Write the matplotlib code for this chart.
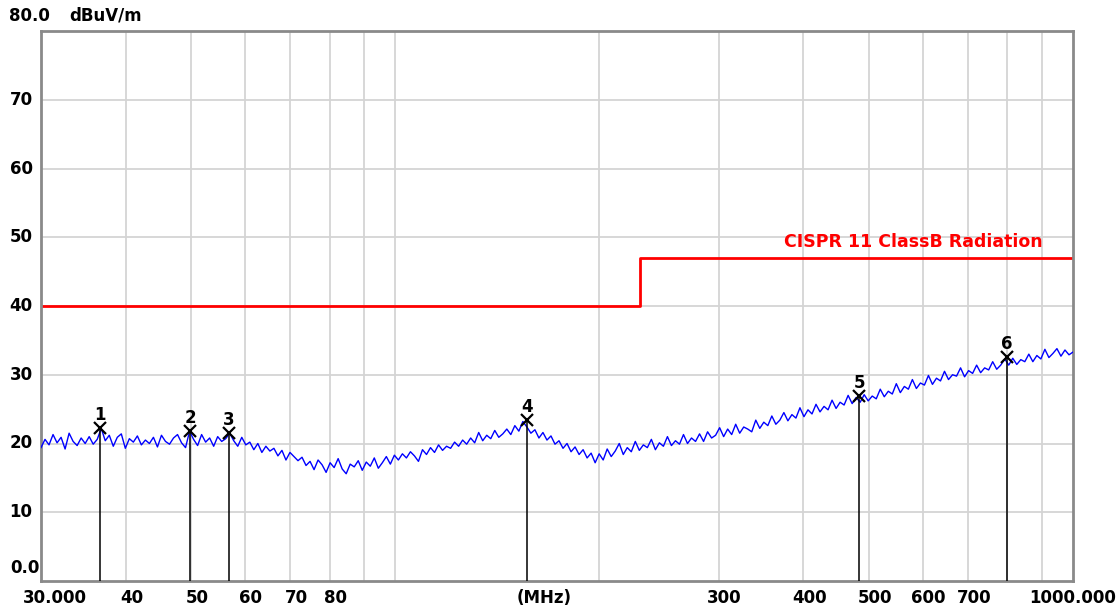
import numpy as np
import matplotlib
matplotlib.use("Agg")
import matplotlib.pyplot as plt
import matplotlib.transforms as mtransforms

# ---------------- data ----------------
f_start, f_stop = 30.0, 1000.0

# measured trace level (dBuV/m), read left to right across the sweep
seg_a = [19.4, 20.6, 19.8, 21.3, 20.1, 20.9, 19.2, 21.5, 20.3, 19.7, 20.8, 20.0, 21.0, 19.9, 20.6, 22.2,
         20.4, 21.2, 19.6, 20.9, 21.4, 19.3, 20.7, 20.2, 21.1, 19.8, 20.5, 20.0, 20.9, 19.5, 21.2, 20.3,
         19.9, 20.8, 21.3, 20.1, 19.4, 21.8, 20.6, 19.7, 21.3, 20.2, 20.8, 19.6, 21.0, 20.3, 20.7, 21.5]
seg_b = [20.4, 19.6, 20.9, 19.8, 20.2, 19.1, 20.0, 18.7, 19.6, 18.9, 19.3, 18.2, 19.0, 17.6, 18.7, 18.1, 17.5]
seg_c = [18.0, 16.8, 17.4, 16.2, 17.6, 16.9, 15.8, 17.2, 16.5, 17.8, 16.3, 15.6, 17.0, 16.6, 17.5, 16.1,
         17.3, 16.7, 17.9, 16.4]
seg_d = [17.2, 18.1, 17.0, 18.3, 17.6, 18.5, 17.9, 18.8, 18.2, 17.4, 19.1, 18.4, 19.4, 18.7, 19.8, 19.0, 19.6]
seg_e = [19.3, 20.2, 19.6, 20.5, 19.9, 20.8, 20.1, 21.6, 20.4, 21.2, 20.7, 21.9, 20.9, 21.4, 22.1, 21.3,
         22.6, 21.8, 23.2]
seg_f = [22.4, 21.5, 22.0, 20.8, 21.6, 20.5, 21.1, 19.9, 20.4, 19.3, 20.0, 18.8, 19.5, 18.4, 19.1, 17.9,
         18.6, 17.2]
seg_g = [18.5, 17.6, 19.2, 18.1, 18.9, 20.0, 18.4, 19.4, 18.8, 20.3, 19.0, 19.8, 19.4, 20.6, 19.1, 20.1,
         19.6, 21.0, 19.7, 20.4, 19.9, 21.3, 20.0, 20.8, 20.3]
seg_h = [21.4, 20.3, 21.7, 20.8, 21.2, 22.3, 21.0, 22.1, 21.3, 22.8, 21.5, 22.4, 22.1, 21.7, 23.4, 22.2,
         23.1, 22.6, 24.0, 22.8, 23.4, 24.5, 23.3, 24.2, 23.7, 25.2, 23.9, 24.9, 24.3, 25.7, 24.6, 25.4,
         24.9, 26.3, 25.1, 26.0, 25.6, 27.0, 25.8, 26.7]
seg_i = [26.0, 27.1, 26.2, 26.9, 26.5, 27.9, 26.8, 27.6, 27.2, 28.7, 27.4, 28.3, 27.9, 29.3, 28.0, 28.8,
         28.5, 29.9, 28.6, 29.5, 29.1, 30.5, 29.3, 30.0, 29.8, 31.0, 29.7, 30.6, 30.2, 31.4, 30.3, 31.0,
         30.7, 31.9, 30.8, 31.4, 32.3]
seg_j = [31.4, 32.4, 31.5, 32.2, 31.9, 33.0, 31.9, 32.8, 32.3, 33.7, 32.5, 33.1, 33.8, 32.7, 33.6, 32.9, 33.3]

# limit line: CISPR 11 Class B radiation
limit_freq = [30.0, 230.0, 230.0, 1000.0]
limit_level = [40.0, 40.0, 47.0, 47.0]
limit_name = "CISPR 11 ClassB Radiation"

# markers
marker_ids = ["1", "2", "3", "4", "5", "6"]
marker_freq = [36.6, 49.8, 56.8, 156.4, 483.3, 798.9]
marker_level = [22.2, 21.8, 21.5, 23.4, 26.9, 32.6]

# axis labels
y_ticks = [10, 20, 30, 40, 50, 60, 70]
x_tick_freq = [40, 50, 60, 70, 80, 300, 400, 500, 600, 700]
x_tick_text = ["40", "50", "60", "70", "80", "300", "400", "500", "600", "700"]
x_grid_freq = [40, 50, 60, 70, 80, 90, 100, 200, 300, 400, 500, 600, 700, 800, 900]

# ---------------- figure ----------------
trace = np.array(seg_a + seg_b + seg_c + seg_d + seg_e + seg_f + seg_g + seg_h + seg_i + seg_j)
freq = np.geomspace(f_start, f_stop, len(trace))

W, H = 1118, 612
fig = plt.figure(figsize=(W / 100, H / 100), dpi=100)
L, R, T, B = 41, 1073, 31, 581
ax = fig.add_axes([L / W, 1 - B / H, (R - L) / W, (B - T) / H])

ax.set_xscale("log")
ax.set_xlim(f_start, f_stop)
ax.set_ylim(0, 80)

for g in x_grid_freq:
    ax.axvline(g, color="#d4d4d4", lw=1.3, zorder=0)
for g in y_ticks:
    ax.axhline(g, color="#d4d4d4", lw=1.3, zorder=0)

for s in ax.spines.values():
    s.set_color("#8a8a8a")
    s.set_linewidth(2)

ax.set_xticks([])
ax.set_yticks([])
ax.minorticks_off()

FAM = "DejaVu Sans"
FS = 12

ax.plot(limit_freq, limit_level, color="#ff0000", lw=2, zorder=2)
ax.text(903, 47.0 + 1.0, limit_name, color="#ff0000", fontsize=12.5, fontweight="bold",
        family=FAM, ha="right", va="bottom")

ax.plot(freq, trace, color="#0000ff", lw=1.0, zorder=3)

for mid, mf, ml in zip(marker_ids, marker_freq, marker_level):
    ax.plot([mf, mf], [0, ml], color="black", lw=1.1, zorder=4)
    ax.plot([mf], [ml], marker="x", color="black", ms=9, mew=1.6, zorder=5)
    ax.annotate(mid, (mf, ml), xytext=(0, 3), textcoords="offset points", ha="center", va="bottom",
                fontsize=FS, fontweight="bold", family=FAM, color="black")

font = dict(fontsize=FS, fontweight="bold", family=FAM, color="black")

ytr = mtransforms.blended_transform_factory(fig.transFigure, ax.transData)
for v in y_ticks:
    ax.text(21 / W, v, str(v), transform=ytr, ha="center", va="center", **font)
ax.text(25 / W, 0 + 13 / 6.875, "0.0", transform=ytr, ha="center", va="center", **font)
fig.text(29 / W, 1 - 16 / H, "80.0", ha="center", va="center", **font)
fig.text(106 / W, 1 - 16 / H, "dBuV/m", ha="center", va="center", **font)

xtr = mtransforms.blended_transform_factory(ax.transData, fig.transFigure)
off = mtransforms.offset_copy(xtr, fig=fig, x=6, y=0, units="dots")
ylab = 1 - 598 / H
for fv, tx in zip(x_tick_freq, x_tick_text):
    ax.text(fv, ylab, tx, transform=off, ha="center", va="center", **font)
ax.text(30.0, ylab, "30.000", transform=mtransforms.offset_copy(xtr, fig=fig, x=14, y=0, units="dots"),
        ha="center", va="center", **font)
ax.text(1000.0, ylab, "1000.000", transform=mtransforms.offset_copy(xtr, fig=fig, x=0, y=0, units="dots"),
        ha="center", va="center", **font)
ax.text(166.0, ylab, "(MHz)", transform=xtr, ha="center", va="center", **font)

fig.savefig("out.png", dpi=100)
